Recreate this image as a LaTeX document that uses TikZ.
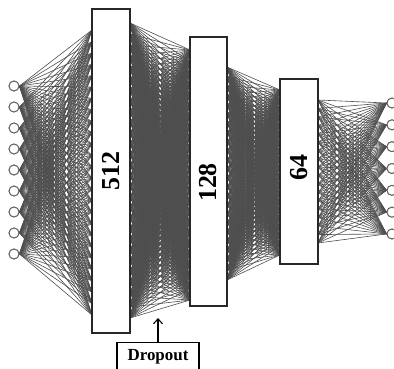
\documentclass[tikz,border=0pt]{standalone}
\usepackage{fontspec}
\setmainfont{Liberation Serif}
\usetikzlibrary{arrows.meta}
\definecolor{meshgray}{RGB}{78,78,78}
\definecolor{boxgray}{RGB}{40,40,40}
\definecolor{circgray}{RGB}{95,95,95}
\begin{document}
\begin{tikzpicture}[x=1bp,y=-1bp,
  mesh/.style={draw=meshgray, line width=0.6bp},
  layerbox/.style={draw=boxgray, line width=1.4bp, fill=white, inner sep=0pt,
    rotate=90, font=\bfseries\fontsize{26}{30}\selectfont},
  neuron/.style={circle, draw=circgray, line width=0.9bp, fill=white,
    minimum size=10bp, inner sep=0pt},
  dropbox/.style={draw=black, line width=1.1bp, anchor=north, minimum width=82bp,
    inner xsep=4bp, inner ysep=4bp, text height=14bp, text depth=10bp,
    font=\bfseries\fontsize{17}{19}\selectfont},
  uparrow/.style={draw=black, line width=1.1bp, -{Straight Barb[length=5bp,width=9bp]}}]
\useasboundingbox (0,0) rectangle (394,369);
\clip (0,0) rectangle (394,369);
% edge coordinates
\foreach \j in {0,...,25} \coordinate (b1l-\j) at (92, 30+11.4*\j);
\foreach \j in {0,...,27} \coordinate (b1r-\j) at (130, 23+10.926*\j);
\foreach \j in {0,...,23} \coordinate (b2l-\j) at (190, 50+10.87*\j);
\foreach \j in {0,...,23} \coordinate (b2r-\j) at (227, 67+9.26*\j);
\foreach \j in {0,...,19} \coordinate (b3l-\j) at (280, 90+8.68*\j);
\foreach \j in {0,...,17} \coordinate (b3r-\j) at (318, 100+8.41*\j);
% neurons
\foreach \i in {0,...,8} \node[neuron] (in\i) at (14, 86+21*\i) {};
\foreach \i in {0,...,6} \node[neuron] (out\i) at (392, 103+21.83*\i) {};
% meshes
\foreach \i in {0,...,8} \foreach \j in {0,...,25} \draw[mesh] (in\i.east) -- (b1l-\j);
\foreach \i in {0,...,27} \foreach \j in {0,...,23} \draw[mesh] (b1r-\i) -- (b2l-\j);
\foreach \i in {0,...,23} \foreach \j in {0,...,19} \draw[mesh] (b2r-\i) -- (b3l-\j);
\foreach \i in {0,...,17} \foreach \j in {0,...,6} \draw[mesh] (b3r-\i) -- (out\j.west);
% redraw neurons on top
\foreach \i in {0,...,8} \node[neuron] at (in\i) {};
\foreach \i in {0,...,6} \node[neuron] at (out\i) {};
% layer boxes
\node[layerbox, minimum width=324bp, minimum height=38bp] (b1) at (111,171) {512};
\node[layerbox, minimum width=269bp, minimum height=37bp] (b2) at (208.5,171.5) {128\hspace*{22bp}};
\node[layerbox, minimum width=185bp, minimum height=38bp] (b3) at (299,171.5) {\hspace*{8bp}64};
% dropout
\node[dropbox] (drop) at (158,342) {Dropout};
\coordinate (droptip) at (158,318);
\draw[uparrow] (drop.north) -- (droptip);
\end{tikzpicture}
\end{document}
